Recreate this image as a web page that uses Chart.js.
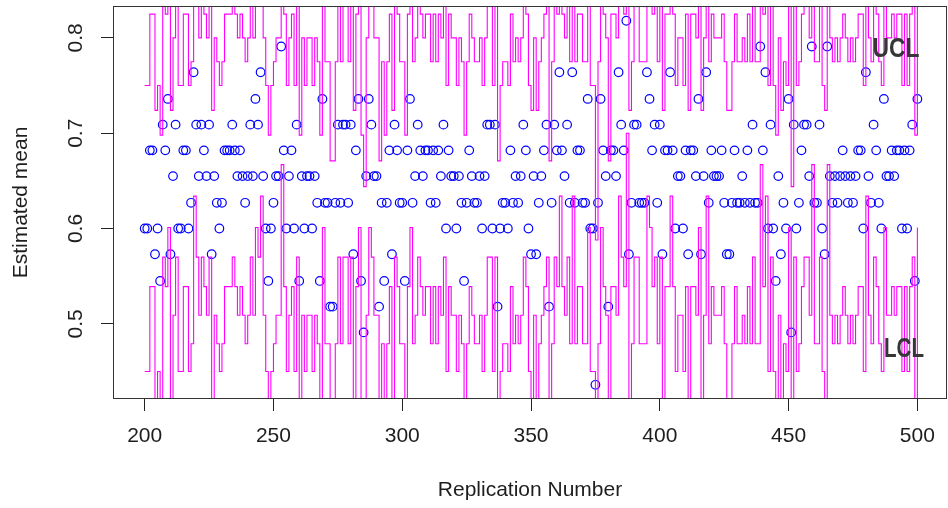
<!DOCTYPE html>
<html>
<head>
<meta charset="utf-8">
<script src="https://cdn.jsdelivr.net/npm/chart.js@4.4.1/dist/chart.umd.min.js"></script>
<style>
  html, body { margin: 0; padding: 0; background: #ffffff; overflow: hidden; }
  #wrap { width: 948px; height: 508px; }
  canvas { display: block; }
</style>
</head>
<body>
<div id="wrap"><canvas id="c" width="948" height="508"></canvas></div>
<script>
// ---------------- data ----------------
const replications = [];
for (let r = 200; r <= 500; r++) replications.push(r);

const xTickValues = [200, 250, 300, 350, 400, 450, 500];
const yTickValues = [0.5, 0.6, 0.7, 0.8];

const estimatedMean = [
  0.600,0.600,0.682,0.682,0.573,0.600,0.545,0.709,0.682,0.736,
  0.573,0.655,0.709,0.600,0.600,0.682,0.682,0.600,0.627,0.764,
  0.709,0.655,0.709,0.682,0.655,0.709,0.573,0.655,0.627,0.600,
  0.627,0.682,0.682,0.682,0.709,0.682,0.655,0.682,0.655,0.627,
  0.655,0.709,0.655,0.736,0.709,0.764,0.655,0.600,0.545,0.600,
  0.627,0.655,0.655,0.791,0.682,0.600,0.655,0.682,0.600,0.709,
  0.545,0.655,0.600,0.655,0.655,0.600,0.655,0.627,0.545,0.736,
  0.627,0.627,0.518,0.518,0.627,0.709,0.627,0.709,0.709,0.627,
  0.709,0.573,0.682,0.736,0.545,0.491,0.655,0.736,0.709,0.655,
  0.655,0.518,0.627,0.545,0.627,0.682,0.573,0.709,0.682,0.627,
  0.627,0.545,0.682,0.736,0.627,0.655,0.709,0.682,0.655,0.682,
  0.682,0.627,0.682,0.627,0.682,0.655,0.709,0.600,0.682,0.655,
  0.655,0.600,0.655,0.627,0.545,0.627,0.682,0.655,0.627,0.627,
  0.655,0.600,0.655,0.709,0.709,0.600,0.709,0.518,0.600,0.627,
  0.627,0.600,0.682,0.627,0.655,0.627,0.655,0.709,0.682,0.600,
  0.573,0.655,0.573,0.627,0.655,0.682,0.709,0.518,0.627,0.709,
  0.682,0.764,0.682,0.655,0.709,0.627,0.764,0.627,0.682,0.682,
  0.627,0.627,0.736,0.600,0.600,0.436,0.627,0.736,0.682,0.655,
  0.518,0.682,0.682,0.655,0.764,0.709,0.682,0.818,0.573,0.627,
  0.709,0.709,0.627,0.627,0.627,0.764,0.736,0.682,0.709,0.627,
  0.709,0.573,0.682,0.682,0.764,0.682,0.600,0.655,0.655,0.600,
  0.682,0.573,0.682,0.682,0.655,0.736,0.573,0.655,0.764,0.627,
  0.682,0.655,0.655,0.655,0.682,0.627,0.573,0.573,0.627,0.682,
  0.627,0.627,0.655,0.627,0.682,0.627,0.709,0.627,0.627,0.791,
  0.682,0.764,0.600,0.709,0.600,0.545,0.655,0.573,0.627,0.600,
  0.736,0.491,0.709,0.600,0.627,0.682,0.709,0.709,0.655,0.791,
  0.627,0.627,0.709,0.600,0.573,0.791,0.655,0.627,0.655,0.627,
  0.655,0.682,0.655,0.627,0.655,0.627,0.655,0.682,0.682,0.600,
  0.764,0.655,0.627,0.709,0.682,0.627,0.600,0.736,0.655,0.655,
  0.682,0.655,0.682,0.682,0.600,0.682,0.600,0.682,0.709,0.545,
  0.736
];

const ucl = [
  0.750,0.750,0.825,0.825,0.724,0.750,0.698,0.848,0.825,0.871,
  0.724,0.800,0.848,0.750,0.750,0.825,0.825,0.750,0.775,0.894,
  0.848,0.800,0.848,0.825,0.800,0.848,0.724,0.800,0.775,0.750,
  0.775,0.825,0.825,0.825,0.848,0.825,0.800,0.825,0.800,0.775,
  0.800,0.848,0.800,0.871,0.848,0.894,0.800,0.750,0.698,0.750,
  0.775,0.800,0.800,0.916,0.825,0.750,0.800,0.825,0.750,0.848,
  0.698,0.800,0.750,0.800,0.800,0.750,0.800,0.775,0.698,0.871,
  0.775,0.775,0.671,0.671,0.775,0.848,0.775,0.848,0.848,0.775,
  0.848,0.724,0.825,0.871,0.698,0.644,0.800,0.871,0.848,0.800,
  0.800,0.671,0.775,0.698,0.775,0.825,0.724,0.848,0.825,0.775,
  0.775,0.698,0.825,0.871,0.775,0.800,0.848,0.825,0.800,0.825,
  0.825,0.775,0.825,0.775,0.825,0.800,0.848,0.750,0.825,0.800,
  0.800,0.750,0.800,0.775,0.698,0.775,0.825,0.800,0.775,0.775,
  0.800,0.750,0.800,0.848,0.848,0.750,0.848,0.671,0.750,0.775,
  0.775,0.750,0.825,0.775,0.800,0.775,0.800,0.848,0.825,0.750,
  0.724,0.800,0.724,0.775,0.800,0.825,0.848,0.671,0.775,0.848,
  0.825,0.894,0.825,0.800,0.848,0.775,0.894,0.775,0.825,0.825,
  0.775,0.775,0.871,0.750,0.750,0.588,0.775,0.871,0.825,0.800,
  0.671,0.825,0.825,0.800,0.894,0.848,0.825,0.936,0.724,0.775,
  0.848,0.848,0.775,0.775,0.775,0.894,0.871,0.825,0.848,0.775,
  0.848,0.724,0.825,0.825,0.894,0.825,0.750,0.800,0.800,0.750,
  0.825,0.724,0.825,0.825,0.800,0.871,0.724,0.800,0.894,0.775,
  0.825,0.800,0.800,0.800,0.825,0.775,0.724,0.724,0.775,0.825,
  0.775,0.775,0.800,0.775,0.825,0.775,0.848,0.775,0.775,0.916,
  0.825,0.894,0.750,0.848,0.750,0.698,0.800,0.724,0.775,0.750,
  0.871,0.644,0.848,0.750,0.775,0.825,0.848,0.848,0.800,0.916,
  0.775,0.775,0.848,0.750,0.724,0.916,0.800,0.775,0.800,0.775,
  0.800,0.825,0.800,0.775,0.800,0.775,0.800,0.825,0.825,0.750,
  0.894,0.800,0.775,0.848,0.825,0.775,0.750,0.871,0.800,0.800,
  0.825,0.800,0.825,0.825,0.750,0.825,0.750,0.825,0.848,0.698,
  0.871
];

const lcl = [
  0.450,0.450,0.539,0.539,0.421,0.450,0.393,0.570,0.539,0.601,
  0.421,0.509,0.570,0.450,0.450,0.539,0.539,0.450,0.479,0.634,
  0.570,0.509,0.570,0.539,0.509,0.570,0.421,0.509,0.479,0.450,
  0.479,0.539,0.539,0.539,0.570,0.539,0.509,0.539,0.509,0.479,
  0.509,0.570,0.509,0.601,0.570,0.634,0.509,0.450,0.393,0.450,
  0.479,0.509,0.509,0.667,0.539,0.450,0.509,0.539,0.450,0.570,
  0.393,0.509,0.450,0.509,0.509,0.450,0.509,0.479,0.393,0.601,
  0.479,0.479,0.365,0.365,0.479,0.570,0.479,0.570,0.570,0.479,
  0.570,0.421,0.539,0.601,0.393,0.338,0.509,0.601,0.570,0.509,
  0.509,0.365,0.479,0.393,0.479,0.539,0.421,0.570,0.539,0.479,
  0.479,0.393,0.539,0.601,0.479,0.509,0.570,0.539,0.509,0.539,
  0.539,0.479,0.539,0.479,0.539,0.509,0.570,0.450,0.539,0.509,
  0.509,0.450,0.509,0.479,0.393,0.479,0.539,0.509,0.479,0.479,
  0.509,0.450,0.509,0.570,0.570,0.450,0.570,0.365,0.450,0.479,
  0.479,0.450,0.539,0.479,0.509,0.479,0.509,0.570,0.539,0.450,
  0.421,0.509,0.421,0.479,0.509,0.539,0.570,0.365,0.479,0.570,
  0.539,0.634,0.539,0.509,0.570,0.479,0.634,0.479,0.539,0.539,
  0.479,0.479,0.601,0.450,0.450,0.284,0.479,0.601,0.539,0.509,
  0.365,0.539,0.539,0.509,0.634,0.570,0.539,0.700,0.421,0.479,
  0.570,0.570,0.479,0.479,0.479,0.634,0.601,0.539,0.570,0.479,
  0.570,0.421,0.539,0.539,0.634,0.539,0.450,0.509,0.509,0.450,
  0.539,0.421,0.539,0.539,0.509,0.601,0.421,0.509,0.634,0.479,
  0.539,0.509,0.509,0.509,0.539,0.479,0.421,0.421,0.479,0.539,
  0.479,0.479,0.509,0.479,0.539,0.479,0.570,0.479,0.479,0.667,
  0.539,0.634,0.450,0.570,0.450,0.393,0.509,0.421,0.479,0.450,
  0.601,0.338,0.570,0.450,0.479,0.539,0.570,0.570,0.509,0.667,
  0.479,0.479,0.570,0.450,0.421,0.667,0.509,0.479,0.509,0.479,
  0.509,0.539,0.509,0.479,0.509,0.479,0.509,0.539,0.539,0.450,
  0.634,0.509,0.479,0.570,0.539,0.479,0.450,0.601,0.509,0.509,
  0.539,0.509,0.539,0.539,0.450,0.539,0.450,0.539,0.570,0.393,
  0.601
];

// ---------------- chart ----------------
const FONT = '"Liberation Sans", Arial, Helvetica, sans-serif';
const TEXT = '#1e1e1e';

const toXY = (arr) => replications.map((x, i) => ({ x: x, y: arr[i] }));

const zeroPad = (s) => { s.paddingLeft = 0; s.paddingRight = 0; s.paddingTop = 0; s.paddingBottom = 0; };

const boxAndLabels = {
  id: 'boxAndLabels',
  afterDatasetsDraw(chart) {
    const { ctx, chartArea: a, scales } = chart;
    ctx.save();
    ctx.strokeStyle = '#333';
    ctx.lineWidth = 1;
    ctx.strokeRect(Math.round(a.left) + 0.5, Math.round(a.top) + 0.5,
                   Math.round(a.right - a.left) - 1, Math.round(a.bottom - a.top) - 1);
    const labels = [
      { text: 'UCL', x: 491.7, y: 0.7873, w: 47 },
      { text: 'LCL', x: 494.8, y: 0.4725, w: 40 }
    ];
    ctx.fillStyle = '#363636';
    ctx.font = 'bold 27px ' + FONT;
    ctx.textAlign = 'center';
    ctx.textBaseline = 'middle';
    labels.forEach(l => {
      const px = scales.x.getPixelForValue(l.x);
      const py = scales.y.getPixelForValue(l.y);
      const natural = ctx.measureText(l.text).width;
      ctx.save();
      ctx.translate(px, py);
      ctx.scale(l.w / natural, 1);
      ctx.fillText(l.text, 0, 0);
      ctx.restore();
    });
    ctx.restore();
  }
};

new Chart(document.getElementById('c').getContext('2d'), {
  type: 'line',
  data: {
    datasets: [
      {
        label: 'UCL',
        data: toXY(ucl),
        borderColor: '#ff00ff',
        borderWidth: 1.1,
        pointRadius: 0,
        stepped: 'before',
        fill: false,
        tension: 0
      },
      {
        label: 'LCL',
        data: toXY(lcl),
        borderColor: '#ff00ff',
        borderWidth: 1.1,
        pointRadius: 0,
        stepped: 'before',
        fill: false,
        tension: 0
      },
      {
        label: 'Estimated mean',
        data: toXY(estimatedMean),
        showLine: false,
        pointStyle: 'circle',
        pointRadius: 4.3,
        pointBorderWidth: 1.2,
        pointBorderColor: '#0000ff',
        pointBackgroundColor: 'rgba(0,0,0,0)',
        borderColor: '#0000ff',
        backgroundColor: 'rgba(0,0,0,0)'
      }
    ]
  },
  options: {
    responsive: false,
    animation: false,
    devicePixelRatio: 1,
    layout: { autoPadding: false, padding: { top: 6, right: 1, left: 0, bottom: 0 } },
    plugins: { legend: { display: false }, tooltip: { enabled: false } },
    scales: {
      x: {
        type: 'linear',
        min: 187.7,
        max: 511.5,
        afterBuildTicks: (s) => { s.ticks = xTickValues.map(v => ({ value: v })); },
        afterFit: (s) => { s.height = 109; zeroPad(s); },
        grid: { drawOnChartArea: false, drawTicks: true, tickLength: 12, color: '#222', lineWidth: 1 },
        border: { display: false },
        ticks: {
          font: { family: FONT, size: 21 },
          color: TEXT,
          padding: 13,
          maxRotation: 0,
          autoSkip: false,
          callback: (v) => String(v)
        },
        title: {
          display: true,
          text: 'Replication Number',
          font: { family: FONT, size: 21 },
          color: TEXT,
          padding: { top: 0, bottom: 5 }
        }
      },
      y: {
        type: 'linear',
        min: 0.4211,
        max: 0.8335,
        afterBuildTicks: (s) => { s.ticks = yTickValues.map(v => ({ value: v })); },
        afterFit: (s) => { s.width = 113; zeroPad(s); },
        grid: { drawOnChartArea: false, drawTicks: true, tickLength: 12, color: '#222', lineWidth: 1 },
        border: { display: false },
        ticks: {
          font: { family: FONT, size: 21 },
          color: TEXT,
          padding: 10,
          minRotation: 90,
          maxRotation: 90,
          crossAlign: 'center',
          autoSkip: false,
          callback: (v) => Number(v).toFixed(1)
        },
        title: {
          display: true,
          text: 'Estimated mean',
          font: { family: FONT, size: 21 },
          color: TEXT,
          padding: { top: 9, bottom: 0 }
        }
      }
    }
  },
  plugins: [boxAndLabels]
});
</script>
</body>
</html>
